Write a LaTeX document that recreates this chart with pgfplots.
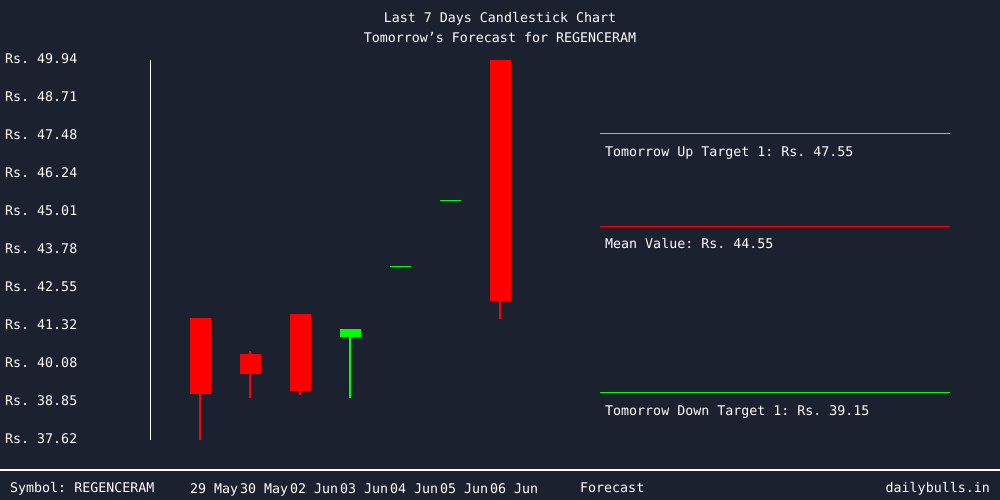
\documentclass[border=0pt]{standalone}
\usepackage{pgfplots}
\pgfplotsset{compat=1.18}
\usepackage{fontspec}
\setmainfont{DejaVu Sans Mono}
\frenchspacing
\definecolor{bg}{RGB}{28,33,48}
\definecolor{cred}{RGB}{255,0,0}
\definecolor{cgreen}{RGB}{0,255,0}
\definecolor{corange}{RGB}{235,165,50}
\newcommand{\f}{\fontsize{13.3}{16}\selectfont\frenchspacing}
\begin{document}
\begin{tikzpicture}[x=1pt,y=1pt]
\fill[bg] (0,0) rectangle (1000,500);
\begin{axis}[
  at={(150pt,60pt)}, anchor=south west,
  width=800pt, height=380pt, scale only axis,
  xmin=-1, xmax=15, ymin=37.62, ymax=49.94,
  clip=false, no markers,
  axis lines*=left,
  x axis line style={draw=none},
  y axis line style={white, line width=1pt},
  major tick length=0pt,
  xtick={0,1,2,3,4,5,6},
  xticklabels={29 May,30 May,02 Jun,03 Jun,04 Jun,05 Jun,06 Jun},
  xticklabel style={anchor=base west, inner sep=0pt, xshift=-10pt, yshift=-53pt, text=white, font=\f},
  ytick={37.62,38.85,40.08,41.32,42.55,43.78,45.01,46.24,47.48,48.71,49.94},
  yticklabels={Rs. 37.62,Rs. 38.85,Rs. 40.08,Rs. 41.32,Rs. 42.55,Rs. 43.78,Rs. 45.01,Rs. 46.24,Rs. 47.48,Rs. 48.71,Rs. 49.94},
  yticklabel style={anchor=base west, inner sep=0pt, xshift=-145pt, yshift=-3.3pt, text=white, font=\f},
]
% wicks
\addplot[cred, line width=1.2pt] coordinates {(0,37.62) (0,41.58)};
\addplot[cred, line width=1.2pt] coordinates {(1,38.99) (1,40.51)};
\addplot[cred, line width=1.2pt] coordinates {(2,39.09) (2,41.70)};
\addplot[cgreen, line width=1.2pt] coordinates {(3,38.99) (3,41.22)};
\addplot[cred, line width=1.2pt] coordinates {(6,41.55) (6,49.94)};
% bodies
\addplot[cred, line width=21pt] coordinates {(0,41.58) (0,39.12)};
\addplot[cred, line width=21pt] coordinates {(1,40.41) (1,39.77)};
\addplot[cred, line width=21pt] coordinates {(2,41.70) (2,39.22)};
\addplot[cgreen, line width=21pt] coordinates {(3,40.97) (3,41.22)};
\addplot[cgreen, line width=1.3pt] coordinates {(3.79,43.25) (4.21,43.25)};
\addplot[cgreen, line width=1.3pt] coordinates {(4.79,45.39) (5.21,45.39)};
\addplot[cred, line width=21pt] coordinates {(6,49.94) (6,42.14)};
% forecast lines
\addplot[corange, line width=1pt] coordinates {(8,47.55) (15,47.55)};
\addplot[cred, line width=1pt] coordinates {(8,44.55) (15,44.55)};
\addplot[cgreen, line width=1pt] coordinates {(8,39.15) (15,39.15)};
\node[anchor=base west, inner sep=0pt, text=white, font=\f, yshift=-23pt] at (axis cs:8.1,47.55) {Tomorrow Up Target 1: Rs. 47.55};
\node[anchor=base west, inner sep=0pt, text=white, font=\f, yshift=-22.5pt] at (axis cs:8.1,44.55) {Mean Value: Rs. 44.55};
\node[anchor=base west, inner sep=0pt, text=white, font=\f, yshift=-23pt] at (axis cs:8.1,39.15) {Tomorrow Down Target 1: Rs. 39.15};
\end{axis}
\node[anchor=base, inner sep=0pt, text=white, font=\f] at (500,477) {Last 7 Days Candlestick Chart};
\node[anchor=base, inner sep=0pt, text=white, font=\f] at (500,457) {Tomorrow’s Forecast for REGENCERAM};
\draw[white, line width=1.2pt] (0,30) -- (1000,30);
\node[anchor=base west, inner sep=0pt, text=white, font=\f] at (10,7) {Symbol: REGENCERAM};
\node[anchor=base west, inner sep=0pt, text=white, font=\f] at (580,7) {Forecast};
\node[anchor=base east, inner sep=0pt, text=white, font=\f] at (990,7) {dailybulls.in};
\pgfresetboundingbox
\useasboundingbox (0,0) rectangle (1000,500);
\end{tikzpicture}
\end{document}
